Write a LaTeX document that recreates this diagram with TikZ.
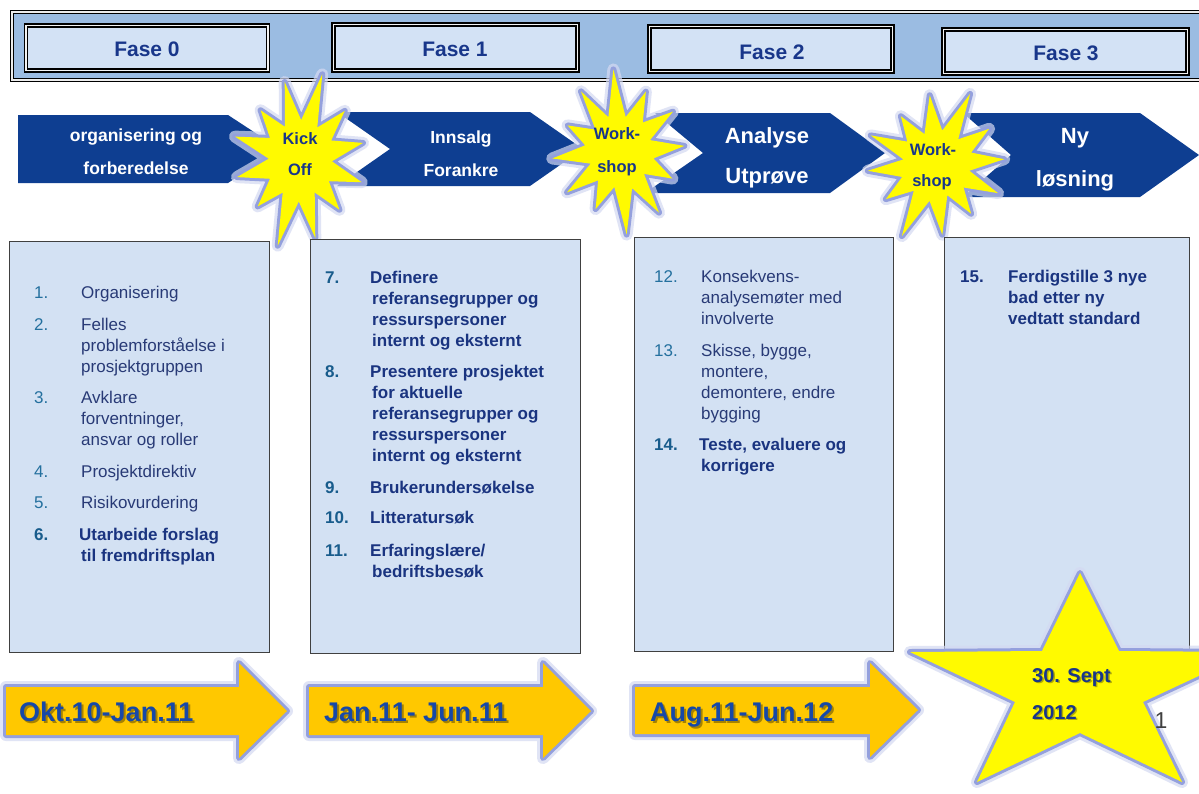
\documentclass[tikz,border=0pt]{standalone}
\usepackage{fontspec}
\setmainfont{Liberation Sans}
\definecolor{hdrfill}{RGB}{155,188,226}
\definecolor{fasefill}{RGB}{211,226,245}
\definecolor{boxfill}{RGB}{211,225,243}
\definecolor{chev}{RGB}{14,62,145}
\definecolor{navy}{RGB}{24,54,138}
\definecolor{itemc}{RGB}{40,58,118}
\definecolor{boldc}{RGB}{26,52,128}
\definecolor{numc}{RGB}{36,112,158}
\definecolor{numbc}{RGB}{24,92,140}
\definecolor{burstyel}{RGB}{255,250,0}
\definecolor{arrowyel}{RGB}{255,200,0}
\definecolor{glowc}{RGB}{112,128,210}
\definecolor{datec}{RGB}{22,72,168}
\newcommand\myburst{%
 \path[burststyle] (5:.95) -- (20:.5) -- (35:.85) -- (50:.46) -- (65:1.0) -- (80:.52) -- (95:1.12) -- (110:.48) -- (125:.85) -- (140:.5) -- (155:.95) -- (170:.46) -- (185:1.0) -- (200:.52) -- (215:.85) -- (230:.47) -- (245:1.0) -- (260:.5) -- (275:1.12) -- (290:.48) -- (305:.9) -- (320:.52) -- (335:.95) -- (350:.47) -- cycle;}
\tikzset{
 glow/.style={preaction={draw=glowc!30!white, line width=12pt, line join=round, draw opacity=.7},
              preaction={draw=glowc!75!white, line width=6pt, line join=round}},
 burststyle/.style={glow, fill=burstyel},
 fasebox/.style={draw=black, line width=1.2pt, double=white!90!gray, double distance=1.8pt, fill=fasefill},
 fasetext/.style={font=\fontsize{21}{25}\selectfont\bfseries, text=navy, anchor=base, inner sep=0},
 chevtext/.style={font=\fontsize{17.5}{21}\selectfont\bfseries, text=white, anchor=base, inner sep=0},
 bigchevtext/.style={font=\fontsize{22}{26}\selectfont\bfseries, text=white, anchor=base, inner sep=0},
 bursttext/.style={font=\fontsize{16.5}{20}\selectfont\bfseries, text=navy, anchor=base, inner sep=0},
 listbox/.style={draw=black!75, line width=1pt, fill=boxfill},
 num/.style={font=\fontsize{17}{21}\selectfont, text=numc, anchor=base west, inner sep=0},
 numb/.style={font=\fontsize{17}{21}\selectfont\bfseries, text=numbc, anchor=base west, inner sep=0},
 item/.style={font=\fontsize{17}{21}\selectfont, text=itemc, anchor=north west, inner sep=0, align=left},
 itemb/.style={font=\fontsize{17}{21}\selectfont\bfseries, text=boldc, anchor=north west, inner sep=0, align=left},
 datearrow/.style={glow, fill=arrowyel},
 datetext/.style={font=\fontsize{27}{32}\selectfont\bfseries, text=datec, anchor=base west, inner sep=0},
 dateshadow/.style={font=\fontsize{27}{32}\selectfont\bfseries, text=black, text opacity=.35, anchor=base west, inner sep=0},
 startext/.style={font=\fontsize{20}{24}\selectfont\bfseries, text=navy, anchor=base west, inner sep=0},
 starshadow/.style={font=\fontsize{20}{24}\selectfont\bfseries, text=black, text opacity=.3, anchor=base west, inner sep=0},
}
\begin{document}
\begin{tikzpicture}[x=1pt,y=-1pt]
\useasboundingbox (0,0) rectangle (1199,793);
\clip (0,0) rectangle (1199,793);
\fill[white] (0,0) rectangle (1199,793);
% header
\path[draw=black, line width=1.1pt, double=white!85!gray, double distance=1.8pt, fill=hdrfill] (12,12) rectangle (1215,80);
\path[fasebox] (26,25.5) rectangle (268,70.5);
\path[fasebox] (333.5,24.5) rectangle (577.5,70.5);
\path[fasebox] (649.5,26.5) rectangle (892.5,71.5);
\path[fasebox] (943.5,29.5) rectangle (1187.5,73.5);
\node[fasetext] (fase0) at (147,56.5) {Fase 0};
\node[fasetext] (fase1) at (455,56.5) {Fase 1};
\node[fasetext] (fase2) at (772,59.5) {Fase 2};
\node[fasetext] (fase3) at (1066,60.5) {Fase 3};
% chevrons
\fill[chev] (18,115) -- (228,115) -- (280,149) -- (228,183) -- (18,183) -- cycle;
\fill[chev] (337,112) -- (530,112) -- (583,149) -- (530,186) -- (337,186) -- (390,149) -- cycle;
\fill[chev] (655,113) -- (830,113) -- (885,153) -- (830,193) -- (645,193) -- (703,153) -- cycle;
\fill[chev] (963,113) -- (1140,113) -- (1199,155) -- (1140,197) -- (963,197) -- (1011,155) -- cycle;
\node[chevtext] (c1a) at (136,141) {organisering og};
\node[chevtext] (c1b) at (136,174) {forberedelse};
\node[chevtext] (c2a) at (461,143) {Innsalg};
\node[chevtext] (c2b) at (461,176) {Forankre};
\node[bigchevtext] (c3a) at (767,143) {Analyse};
\node[bigchevtext] (c3b) at (767,183) {Utprøve};
\node[bigchevtext] (c4a) at (1075,143) {Ny};
\node[bigchevtext] (c4b) at (1075,186) {løsning};
% bursts
\begin{scope}[shift={(300,160)}, xscale=68, yscale=80, rotate=-12]\myburst\end{scope}
\begin{scope}[shift={(620,152)}, xscale=68, yscale=74, rotate=10]\myburst\end{scope}
\begin{scope}[shift={(936,165)}, xscale=72, yscale=70, rotate=-20]\myburst\end{scope}
\node[bursttext] (k1) at (300,144) {Kick};
\node[bursttext] (k2) at (300,175) {Off};
\node[bursttext] (w1a) at (617,139) {Work-};
\node[bursttext] (w1b) at (617,172) {shop};
\node[bursttext] (w2a) at (933,155) {Work-};
\node[bursttext] (w2b) at (932,186) {shop};
% list boxes
\path[listbox] (9,241) rectangle (269,652);
\path[listbox] (310,239) rectangle (580,653);
\path[listbox] (634,237) rectangle (893,651);
\path[listbox] (944,237) rectangle (1189,651);
% box 1
\node[num] (n1) at (34,298) {1.};
\node[item] (t1) at (81,283.3) {\strut Organisering};
\node[num] (n2) at (34,330) {2.};
\node[item] (t2) at (81,315.3) {\strut Felles\\problemforståelse i\\prosjektgruppen};
\node[num] (n3) at (34,403) {3.};
\node[item] (t3) at (81,388.3) {\strut Avklare\\forventninger,\\ansvar og roller};
\node[num] (n4) at (34,477) {4.};
\node[item] (t4) at (81,462.3) {\strut Prosjektdirektiv};
\node[num] (n5) at (34,508) {5.};
\node[item] (t5) at (81,493.3) {\strut Risikovurdering};
\node[numb] (n6) at (34,540) {6.};
\node[itemb] (t6) at (79,525.3) {\strut Utarbeide forslag\\\hspace*{2pt}til fremdriftsplan};
% box 2
\node[numb] (n7) at (325,283) {7.};
\node[itemb] (t7) at (370,268.3) {\strut Definere\\\hspace*{2pt}referansegrupper og\\\hspace*{2pt}ressurspersoner\\\hspace*{2pt}internt og eksternt};
\node[numb] (n8) at (325,377) {8.};
\node[itemb] (t8) at (370,362.3) {\strut Presentere prosjektet\\\hspace*{2pt}for aktuelle\\\hspace*{2pt}referansegrupper og\\\hspace*{2pt}ressurspersoner\\\hspace*{2pt}internt og eksternt};
\node[numb] (n9) at (325,493) {9.};
\node[itemb] (t9) at (370,478.3) {\strut Brukerundersøkelse};
\node[numb] (n10) at (325,523.5) {10.};
\node[itemb] (t10) at (370,508.8) {\strut Litteratursøk};
\node[numb] (n11) at (325,556) {11.};
\node[itemb] (t11) at (370,541.3) {\strut Erfaringslære/\\\hspace*{2pt}bedriftsbesøk};
% box 3
\node[num] (n12) at (654,282) {12.};
\node[item] (t12) at (701,267.3) {\strut Konsekvens-\\analysemøter med\\involverte};
\node[num] (n13) at (654,356) {13.};
\node[item] (t13) at (701,341.3) {\strut Skisse, bygge,\\montere,\\demontere, endre\\bygging};
\node[numb] (n14) at (654,450) {14.};
\node[itemb] (t14) at (699,435.3) {\strut Teste, evaluere og\\\hspace*{2pt}korrigere};
% box 4
\node[numb, text=boldc] (n15) at (960,282) {15.};
\node[itemb] (t15) at (1008,267.3) {\strut Ferdigstille 3 nye\\bad etter ny\\vedtatt standard};
% date arrows
\path[datearrow] (6,687) -- (239,687) -- (239,663) -- (287,711) -- (239,758) -- (239,735) -- (6,735) -- cycle;
\path[datearrow] (309,687) -- (543,687) -- (543,663) -- (591,711) -- (543,758) -- (543,735) -- (309,735) -- cycle;
\path[datearrow] (635,687) -- (870,687) -- (870,663) -- (918,710) -- (870,757) -- (870,734) -- (635,734) -- cycle;
\node[dateshadow] (d1s) at (21,723) {Okt.10-Jan.11};
\node[datetext] (d1) at (19,721) {Okt.10-Jan.11};
\node[dateshadow] (d2s) at (326,723) {Jan.11- Jun.11};
\node[datetext] (d2) at (324,721) {Jan.11- Jun.11};
\node[dateshadow] (d3s) at (652,723) {Aug.11-Jun.12};
\node[datetext] (d3) at (650,721) {Aug.11-Jun.12};
% big star
\path[glow, fill=burstyel] (1080,573) -- (1119,651) -- (1250,652) -- (1143,702) -- (1182,782) -- (1080,733) -- (977,782) -- (1015,702) -- (910,652) -- (1042,651) -- cycle;
\node[starshadow] (s1s) at (1033.5,683.5) {30. Sept};
\node[startext] (s1) at (1032,682) {30. Sept};
\node[starshadow] (s2s) at (1033.5,720.5) {2012};
\node[startext] (s2) at (1032,719) {2012};
\node[font=\fontsize{23}{27}\selectfont, text=black!75, anchor=base, inner sep=0] (pg) at (1161,728) {1};
\end{tikzpicture}
\end{document}
